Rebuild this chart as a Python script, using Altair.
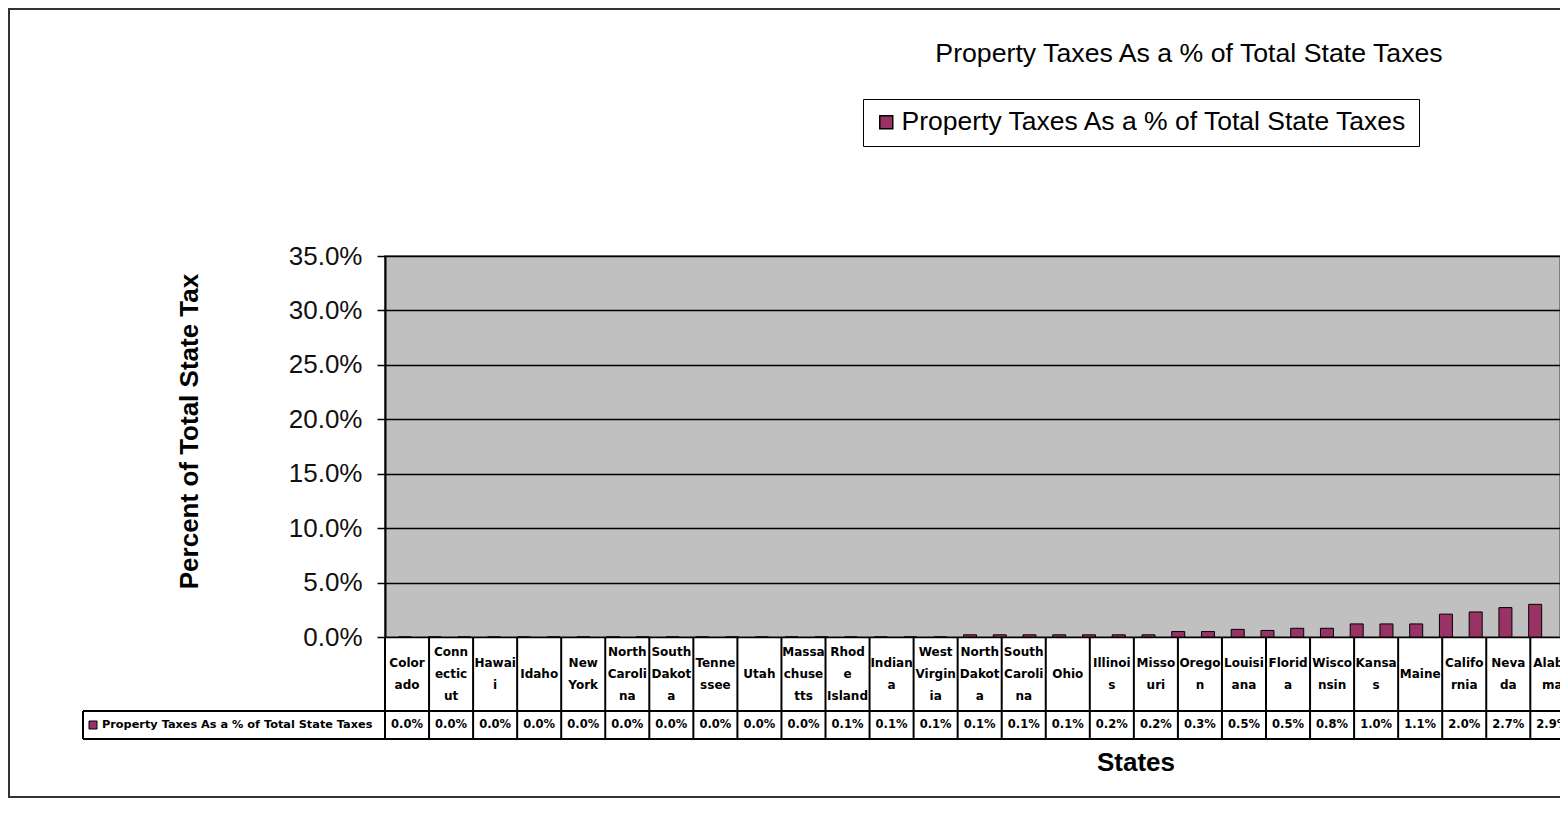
import altair as alt
import pandas as pd

chart_title = "Property Taxes As a % of Total State Taxes"
series_name = "Property Taxes As a % of Total State Taxes"
y_title = "Percent of Total State Tax"
x_title = "States"

# Data table (categories as wrapped in the cells, and their values in %)
table_labels = [
    "Color\nado", "Conn\nectic\nut", "Hawai\ni", "Idaho", "New\nYork",
    "North\nCaroli\nna", "South\nDakot\na", "Tenne\nssee", "Utah",
    "Massa\nchuse\ntts", "Rhod\ne\nIsland", "Indian\na", "West\nVirgin\nia",
    "North\nDakot\na", "South\nCaroli\nna", "Ohio", "Illinoi\ns", "Misso\nuri",
    "Orego\nn", "Louisi\nana", "Florid\na", "Wisco\nnsin", "Kansa\ns", "Maine",
    "Califo\nrnia", "Neva\nda", "Alaba\nma",
]
table_values = [
    0.0, 0.0, 0.0, 0.0, 0.0, 0.0, 0.0, 0.0, 0.0, 0.0,
    0.1, 0.1, 0.1, 0.1, 0.1, 0.1,
    0.2, 0.2, 0.3, 0.5, 0.5, 0.8, 1.0, 1.1, 2.0, 2.7, 2.9,
]

# Bars as drawn in the plot area (values in %), one per category slot
bar_values = [
    0.0, 0.0, 0.0, 0.0, 0.0, 0.0, 0.0, 0.0, 0.0, 0.0,
    0.0, 0.0, 0.0, 0.0, 0.0, 0.0, 0.0, 0.0, 0.0,
    0.2, 0.2, 0.2, 0.2, 0.2, 0.2, 0.2, 0.5, 0.5, 0.7,
    0.6, 0.8, 0.8, 1.2, 1.2, 1.2, 2.1, 2.3, 2.7, 3.0,
]

y_ticks = [0, 5, 10, 15, 20, 25, 30, 35]

BAR_COLOR = "#993366"
FONT = "Liberation Sans"
TFONT = "DejaVu Sans"
W, H = 1175, 381
BAR_STEP, COL_STEP = 30.0, 44.05
LINE_H = 22
ROW1_MID = 418

bars_df = pd.DataFrame({"rank": list(range(1, len(bar_values) + 1)),
                        "value": bar_values, "series": series_name})
table_df = pd.DataFrame({"col": list(range(len(table_labels))),
                         "label": table_labels, "value": table_values})
edges_df = pd.DataFrame({"col": list(range(len(table_labels) + 1))})
one = pd.DataFrame({"series": [series_name], "t": [chart_title], "xt": [x_title]})

col_scale = alt.Scale(domain=[0, W / COL_STEP], nice=False, zero=False)

border = alt.Chart(one).mark_rect(fill="transparent", stroke="#333333", strokeWidth=2).encode(
    x=alt.value(-376), x2=alt.value(W + 30), y=alt.value(-247), y2=alt.value(541)
)

bars = alt.Chart(bars_df).transform_calculate(pos="datum.rank - 0.5").mark_bar(
    width=13, stroke="black", strokeWidth=1, clip=True
).encode(
    x=alt.X("pos:Q", scale=alt.Scale(domain=[0, W / BAR_STEP], nice=False, zero=False), axis=None),
    y=alt.Y("value:Q", scale=alt.Scale(domain=[0, 35], nice=False),
            axis=alt.Axis(values=y_ticks, labelExpr="format(datum.value, '.1f') + '%'",
                          title=y_title, titleX=-196, titleY=175, titleAngle=270,
                          titleAlign="center", titleBaseline="middle",
                          titleFont=FONT, titleFontSize=26, titleFontWeight="bold", titleColor="black",
                          labelFont=FONT, labelFontSize=26, labelColor="#111111", labelPadding=15,
                          domainColor="black", domainWidth=2, tickColor="black", tickSize=8,
                          tickWidth=1.5, grid=True, gridColor="black", gridWidth=1.5)),
    color=alt.Color("series:N", scale=alt.Scale(domain=[series_name], range=[BAR_COLOR]),
                    legend=alt.Legend(orient="none", legendX=478, legendY=-157, title=None,
                                      strokeColor="black", fillColor="white", padding=10,
                                      labelOffset=2, labelFont=FONT, labelFontSize=26.5,
                                      labelColor="black", symbolType="square", symbolSize=169,
                                      symbolStrokeColor="black", symbolStrokeWidth=1.5,
                                      labelLimit=800)),
)


def names_layer(n_lines):
    return alt.Chart(table_df).transform_calculate(
        pos="datum.col + 0.5", nl="length(split(datum.label, '\\n'))"
    ).transform_filter(f"datum.nl == {n_lines}").mark_text(
        font=TFONT, fontWeight="bold", fontSize=12, lineBreak="\n", lineHeight=LINE_H,
        baseline="middle", align="center", color="black"
    ).encode(
        x=alt.X("pos:Q", scale=col_scale, axis=None),
        y=alt.value(ROW1_MID - (n_lines - 1) * LINE_H / 2),
        text="label:N",
    )


names1, names2, names3 = names_layer(1), names_layer(2), names_layer(3)

vals = alt.Chart(table_df).transform_calculate(
    pos="datum.col + 0.5", txt="format(datum.value, '.1f') + '%'"
).mark_text(font=TFONT, fontWeight="bold", fontSize=11.5, baseline="middle", align="center",
            color="black").encode(x=alt.X("pos:Q", scale=col_scale, axis=None),
                                  y=alt.value(469), text="txt:N")

vlines = alt.Chart(edges_df).mark_rule(color="black", strokeWidth=2).encode(
    x=alt.X("col:Q", scale=col_scale, axis=None), y=alt.value(381), y2=alt.value(483)
)

hline1 = alt.Chart(one).mark_rule(color="black", strokeWidth=2).encode(
    x=alt.value(-302), x2=alt.value(W + 30), y=alt.value(455)
)
hline2 = alt.Chart(one).mark_rule(color="black", strokeWidth=2).encode(
    x=alt.value(-302), x2=alt.value(W + 30), y=alt.value(483)
)
lcell = alt.Chart(one).mark_rule(color="black", strokeWidth=2).encode(
    x=alt.value(-302), y=alt.value(455), y2=alt.value(483)
)
lsym = alt.Chart(one).mark_point(shape="square", filled=True, size=64, fill=BAR_COLOR,
                                 stroke="black", strokeWidth=1, opacity=1).encode(
    x=alt.value(-292), y=alt.value(469)
)
ltxt = alt.Chart(one).mark_text(font=TFONT, fontWeight="bold", fontSize=11.3, align="left",
                                baseline="middle", color="black").encode(
    x=alt.value(-283), y=alt.value(469), text="series:N"
)

title_mark = alt.Chart(one).mark_text(font=FONT, fontSize=26.7, align="center",
                                      baseline="middle", color="black").encode(
    x=alt.value(804), y=alt.value(-202), text="t:N"
)
xtitle_mark = alt.Chart(one).mark_text(font=FONT, fontSize=26, fontWeight="bold", align="center",
                                       baseline="middle", color="black").encode(
    x=alt.value(751), y=alt.value(507), text="xt:N"
)

chart = alt.layer(
    border, bars, names1, names2, names3, vals, vlines, hline1, hline2, lcell, lsym, ltxt,
    title_mark, xtitle_mark
).resolve_scale(x="independent", y="independent", color="independent").properties(
    width=W, height=H,
    autosize=alt.AutoSizeParams(type="none"),
    padding={"left": 377, "top": 248, "right": 0, "bottom": 162},
    background="white",
).configure_view(fill="#C0C0C0", stroke="#808080", strokeWidth=2)

chart.save("out.html", embed_options={"renderer": "svg", "actions": False})
